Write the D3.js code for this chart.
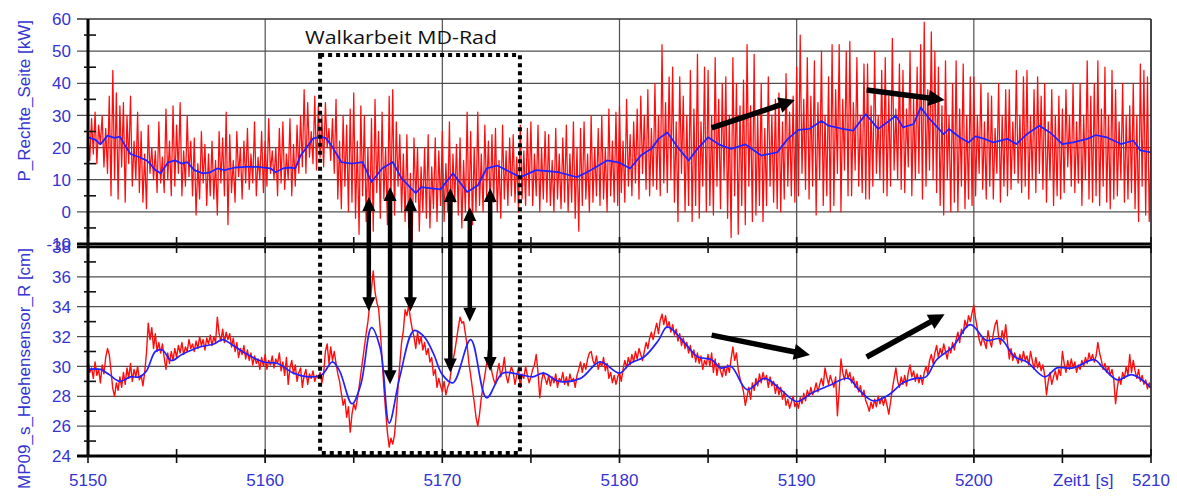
<!DOCTYPE html>
<html>
<head>
<meta charset="utf-8">
<script src="https://cdn.jsdelivr.net/npm/d3@7"></script>
<style>
  html, body { margin: 0; padding: 0; background: #ffffff; }
  svg { display: block; }
</style>
</head>
<body>
<svg id="chart" width="1177" height="502"></svg>
<script>
// Time base of the raw signals (seconds), one sample every 0.1 s
const T_START = 5150;
const T_END = 5210;
const SAMPLE_STEP = 0.1;

// P_Rechte_Seite [kW] – raw samples, one row per second
const powerSamples = [
  24,16,29,18,31,15,27,21,30,14,
  26,12,36,5,44,10,37,4,33,14,
  34,3,30,15,36,8,22,10,31,6,
  25,3,18,1,27,12,20,10,19,6,
  28,9,17,6,32,10,22,5,33,8,
  27,12,34,5,19,8,30,11,22,5,
  23,-1,15,4,25,9,21,2,18,5,
  22,4,16,-1,25,9,23,5,31,-4,
  24,6,16,3,25,11,20,4,22,9,
  26,7,18,9,28,5,17,10,25,6,
  22,8,29,12,19,10,20,5,26,9,
  28,7,18,10,29,5,21,8,27,12,
  30,14,38,12,34,17,25,15,36,13,
  33,17,30,14,34,20,26,16,29,12,
  35,4,22,1,30,8,27,0,32,3,
  37,-2,22,-7,33,5,30,-3,20,-5,
  29,-6,35,6,25,-2,31,4,20,-4,
  36,3,38,-1,28,8,24,0,18,-3,
  24,-5,12,-9,23,3,20,-6,14,0,
  20,-2,24,-5,14,1,23,-3,19,2,
  25,-3,15,0,28,-5,18,3,21,-1,
  23,-5,16,0,31,-2,25,-4,20,0,
  31,2,18,0,27,5,22,1,24,3,
  26,0,16,-2,27,4,19,2,23,5,
  24,3,17,0,27,4,19,2,26,5,
  28,2,18,5,27,0,20,4,25,3,
  24,2,16,0,26,4,18,1,23,3,
  27,0,18,3,28,-2,20,-6,26,2,
  28,4,18,0,30,3,20,5,26,2,
  30,4,20,0,32,5,22,3,31,2,
  33,6,22,3,35,8,24,5,28,9,
  32,4,36,12,30,7,38,5,26,8,
  40,7,30,5,52,9,34,6,42,10,
  45,3,28,-3,42,12,36,0,30,2,
  44,-3,32,2,49,-2,28,8,45,0,
  44,2,30,-1,48,8,35,1,40,10,
  42,-2,30,-8,48,5,40,-7,33,2,
  41,-4,52,8,33,-3,49,-1,30,2,
  40,-3,26,2,42,8,30,3,35,1,
  37,0,28,4,43,8,31,5,36,3,
  45,5,55,12,35,7,48,4,36,8,
  47,-1,34,10,50,2,30,5,42,0,
  52,2,38,12,52,0,35,13,50,5,
  53,5,34,13,48,8,30,6,46,4,
  46,4,33,8,50,12,30,10,44,6,
  48,5,36,8,54,13,32,10,46,7,
  44,6,32,14,50,5,35,10,45,12,
  52,4,59,8,38,13,56,10,50,6,
  45,2,33,-1,47,10,30,0,40,3,
  47,0,32,8,46,1,30,4,42,2,
  42,5,30,12,40,7,28,4,37,8,
  36,4,26,12,40,3,30,8,38,5,
  38,7,28,12,44,9,30,6,42,8,
  44,4,30,10,38,6,42,12,36,7,
  40,3,28,10,38,2,30,5,36,4,
  32,6,38,14,30,8,40,6,28,9,
  40,2,30,10,47,4,36,3,40,5,
  47,2,32,8,45,3,30,1,44,4,
  38,5,28,10,40,3,30,4,33,6,
  40,1,30,-3,46,8,44,-1,42,-3,
  20
];

// P_Rechte_Seite – filtered trend
const powerTrendTime = [
  5150.0,5150.4,5150.7,5151.1,5151.5,5151.8,5152.1,5152.4,5152.9,5153.3,
  5153.5,5153.8,5154.1,5154.5,5154.9,5155.3,5155.6,5156.0,5156.5,5156.9,
  5157.3,5157.7,5158.3,5158.9,5159.6,5160.3,5160.6,5161.0,5161.4,5161.7,
  5162.0,5162.2,5162.7,5163.1,5163.4,5163.7,5164.3,5164.9,5165.5,5166.0,
  5166.6,5167.2,5167.7,5168.5,5168.8,5169.9,5170.6,5171.4,5172.0,5172.5,
  5173.1,5173.6,5174.4,5175.3,5176.5,5177.6,5178.2,5179.3,5180.0,5180.6,
  5181.2,5181.8,5182.2,5182.7,5183.3,5183.9,5184.4,5185.0,5185.6,5186.3,
  5187.1,5188.0,5188.9,5189.5,5190.1,5190.7,5191.4,5191.8,5192.6,5193.2,
  5193.9,5194.6,5195.6,5196.0,5196.6,5197.0,5197.5,5198.3,5198.6,5199.2,
  5199.7,5200.1,5200.6,5201.1,5201.9,5202.4,5203.0,5203.7,5204.3,5205.0,
  5205.6,5206.4,5206.9,5207.5,5208.3,5209.0,5209.4,5210.0
];
const powerTrend = [
  23.2,22.5,21.0,23.7,23.0,23.4,20.6,18.0,17.0,16.0,
  15.0,13.0,12.0,15.3,16.0,15.0,15.5,13.0,12.0,12.3,
  13.5,13.0,13.8,14.0,14.0,13.5,12.3,13.5,13.8,13.5,
  17.5,19.0,22.8,23.4,23.0,21.0,15.5,15.0,15.5,9.3,
  13.5,15.5,10.4,5.8,7.7,7.0,12.0,6.2,8.2,13.5,
  14.4,13.0,10.8,13.0,12.4,10.8,12.4,16.0,15.3,13.5,
  17.5,19.6,22.7,24.7,20.0,16.0,19.6,23.2,21.0,19.6,
  21.0,17.5,18.5,22.7,25.5,25.8,28.3,26.8,25.8,25.3,
  30.4,25.8,29.9,26.3,27.3,32.5,28.9,24.2,25.8,23.2,
  21.6,23.5,22.7,21.6,22.7,21.1,24.2,26.8,24.7,21.1,
  21.6,22.7,23.9,23.2,21.1,22.2,19.1,18.5
];

// MP09_s_Hoehensensor_R [cm] – raw samples, one row per second
const heightSamples = [
  30.4,29.6,29.9,29.2,30.3,29.4,29.8,28.9,30.1,29.5,
  30.6,31.2,30.8,29.7,28.5,28.0,28.9,28.4,29.3,28.6,
  29.6,28.8,29.9,29.2,30.2,29.0,29.8,29.3,30.0,29.1,
  29.4,28.7,29.6,30.9,32.9,31.8,32.6,31.2,32.2,31.0,
  31.6,30.9,31.5,30.6,29.8,30.9,30.2,31.0,30.4,31.2,
  30.6,31.4,30.9,31.6,30.8,31.3,31.0,31.8,31.2,31.5,
  31.0,31.7,31.2,32.0,31.4,31.8,31.1,31.9,31.5,32.1,
  31.4,32.0,31.6,33.3,32.2,31.7,32.5,31.6,32.3,31.8,
  32.2,31.3,31.9,31.0,31.6,30.6,31.2,30.8,31.4,30.5,
  31.1,30.4,30.9,30.1,30.7,30.2,30.5,29.8,30.6,30.0,
  30.8,29.8,30.4,30.1,30.7,29.9,30.5,30.2,30.9,29.7,
  30.3,29.4,30.6,28.8,29.9,30.4,29.5,30.1,29.0,29.6,
  29.9,28.6,29.4,29.8,28.8,29.5,29.2,29.7,29.0,29.4,
  29.2,29.6,28.9,29.5,31.0,31.5,30.2,31.3,30.4,31.0,
  30.2,29.5,29.0,28.2,27.4,27.8,26.6,27.3,25.6,26.8,
  27.5,27.1,27.8,28.6,29.5,30.4,31.3,32.2,33.0,34.1,
  35.2,36.4,35.0,34.3,33.9,32.4,30.5,28.6,27.0,25.6,
  24.6,25.2,24.8,25.4,26.8,28.6,30.2,31.6,32.4,33.8,
  33.4,34.1,33.2,32.5,32.0,31.2,32.3,31.5,32.0,31.1,
  31.6,30.8,31.2,30.3,30.6,29.4,29.8,28.6,29.2,28.7,
  28.3,29.0,28.1,28.6,28.9,29.7,30.4,31.0,31.8,32.6,
  33.3,32.9,33.0,32.2,31.4,30.2,29.4,28.5,27.6,26.6,
  26.0,26.8,27.9,28.7,29.4,30.2,31.1,30.4,29.6,29.1,
  28.8,29.6,30.2,29.3,29.8,30.6,29.4,28.9,29.5,30.0,
  29.6,28.8,29.4,29.9,28.6,29.5,29.2,30.0,29.4,28.9,
  29.3,29.8,30.1,30.8,29.6,27.9,29.0,29.6,29.2,28.8,
  29.4,28.7,29.3,28.9,29.5,28.6,29.2,29.0,29.6,28.8,
  29.3,28.7,29.5,29.0,29.2,28.6,29.4,29.8,30.3,29.6,
  30.2,29.8,30.5,30.9,31.0,30.4,30.1,30.7,29.8,30.3,
  30.0,30.6,29.7,30.2,29.2,29.6,28.9,29.4,28.8,29.3,
  29.6,29.0,29.8,30.4,29.9,30.6,30.1,30.8,30.3,31.0,
  30.5,31.2,30.8,30.4,31.0,31.6,31.2,31.9,32.3,31.8,
  32.4,32.9,32.2,33.1,33.5,32.8,33.4,32.6,33.0,32.3,
  32.8,32.1,32.5,31.7,32.2,31.4,31.9,31.2,31.6,30.9,
  31.4,30.6,31.1,30.3,30.9,30.2,30.7,29.8,30.4,30.1,
  30.8,30.0,30.9,29.6,30.5,29.4,30.2,29.7,29.3,30.0,
  29.4,30.1,29.6,30.5,31.3,30.4,30.9,29.8,29.2,28.8,
  28.3,27.4,28.0,28.6,27.8,28.9,28.4,29.2,28.7,29.5,
  28.9,29.6,29.1,29.4,28.6,29.3,28.7,29.0,28.2,28.8,
  28.1,28.6,27.8,28.3,27.4,27.8,27.2,27.6,28.0,27.3,
  27.6,27.2,27.9,27.5,28.2,27.7,28.4,28.0,28.6,28.1,
  28.4,28.9,28.3,28.8,29.2,28.7,29.9,29.3,28.8,29.4,
  29.0,28.6,29.3,26.7,28.4,30.5,29.6,29.1,29.8,29.2,
  29.6,28.9,29.3,28.6,29.0,28.3,28.7,28.0,28.4,27.7,
  27.4,27.0,27.6,27.2,27.8,27.3,28.0,27.5,27.9,27.4,
  27.9,27.4,26.8,27.6,28.5,29.2,29.9,29.0,28.6,29.3,
  28.8,29.4,28.7,29.6,30.1,29.3,29.7,29.0,29.5,28.9,
  29.4,28.8,29.6,30.0,29.5,30.4,30.8,30.2,30.9,31.4,
  30.6,31.2,30.8,31.5,31.0,30.5,31.3,30.9,31.6,31.1,
  31.8,32.3,31.6,32.5,32.2,33.1,32.6,33.4,33.0,33.6,
  34.1,33.2,32.5,31.8,31.4,32.0,31.6,31.2,32.4,31.7,
  31.3,32.2,32.8,33.1,32.0,31.5,32.4,31.8,32.8,31.6,
  30.5,31.2,30.4,30.9,30.6,30.2,30.8,30.3,31.0,30.4,
  30.7,30.1,31.0,30.4,29.8,30.6,29.9,30.3,29.7,30.1,
  29.4,28.1,29.0,29.6,28.8,29.3,29.7,29.1,29.8,29.4,
  31.0,30.2,29.6,30.4,29.8,30.5,29.9,30.3,29.6,30.1,
  29.8,30.4,30.0,30.6,30.2,30.9,30.4,30.8,30.3,30.7,
  31.6,30.9,30.4,29.8,30.2,29.6,30.0,29.4,29.8,29.1,
  27.5,28.6,29.3,28.8,29.6,29.2,30.0,29.4,30.8,29.6,
  30.4,29.7,29.2,29.8,29.0,29.4,28.8,29.1,28.5,28.9,
  28.6
];

// MP09_s_Hoehensensor_R – filtered trend
const heightTrendTime = [
  5150.0,5150.7,5151.2,5151.8,5152.4,5152.9,5153.3,5153.8,5154.2,5154.7,
  5155.3,5156.3,5157.1,5157.6,5158.2,5159.0,5159.9,5160.7,5161.6,5162.5,
  5163.2,5163.8,5164.2,5164.9,5165.4,5166.0,5166.5,5167.0,5167.6,5168.4,
  5169.0,5169.5,5170.0,5170.6,5171.6,5172.5,5173.4,5174.4,5175.1,5175.7,
  5176.6,5177.8,5178.9,5180.0,5180.6,5181.4,5182.2,5182.7,5183.7,5184.4,
  5185.2,5185.7,5186.3,5187.2,5188.2,5189.1,5190.0,5190.9,5191.8,5192.9,
  5193.5,5194.3,5195.2,5196.0,5196.7,5197.3,5197.9,5198.8,5199.8,5200.7,
  5201.5,5202.3,5203.0,5204.0,5204.7,5205.6,5206.8,5207.3,5208.1,5208.9,
  5209.6,5210.0
];
const heightTrend = [
  29.8,29.8,29.45,29.0,29.3,29.3,29.7,31.0,31.1,30.4,
  30.8,31.3,31.5,31.8,31.4,30.8,30.3,30.2,29.55,29.3,
  29.45,30.3,29.7,27.5,28.8,32.6,31.2,26.2,29.3,32.4,
  31.95,30.85,29.45,28.9,31.8,27.9,29.55,29.45,29.3,29.55,
  29.0,29.2,30.3,29.55,30.2,30.65,31.75,32.65,31.55,30.65,
  30.45,29.9,30.0,28.45,29.2,28.45,27.65,28.25,28.7,29.2,
  28.45,27.7,28.1,28.9,29.2,29.3,30.45,31.3,32.8,31.75,
  31.85,30.65,30.3,29.3,29.9,29.9,30.45,29.9,29.1,29.45,
  29.0,28.55
];

// Axis ticks and labels
const powerTicks = [-10, 0, 10, 20, 30, 40, 50, 60];
const powerMinorTicks = [-5, 5, 15, 25, 35, 45, 55];
const heightTicks = [24, 26, 28, 30, 32, 34, 36, 38];
const heightMinorTicks = [25, 27, 29, 31, 33, 35, 37];
const timeTicks = [5150, 5160, 5170, 5180, 5190, 5200, 5210];
const timeMinorTicks = [5155, 5165, 5175, 5185, 5195, 5205];
const timeTickLabels = ["5150", "5160", "5170", "5180", "5190", "5200", "5210"];
const powerTitle = "P_Rechte_Seite [kW]";
const heightTitle = "MP09_s_Hoehensensor_R [cm]";
const timeTitle = "Zeit1 [s]";

// Annotation: marked region and arrows (time / signal units)
const regionLabel = "Walkarbeit MD-Rad";
const regionStart = 5163.1, regionEnd = 5174.38;
const regionTopPower = 48.8, regionBottomHeight = 24.2;
const linkArrowTime   = [5165.85, 5167.05, 5168.2, 5170.45, 5171.55, 5172.7];
const linkArrowPower  = [4.6, 7.7, 4.6, 7.4, 1.5, 7.4];
const linkArrowHeight = [33.7, 28.8, 33.7, 29.6, 33.0, 29.7];
const trendArrowsPower  = [[5185.2, 26.1, 5189.9, 34.8], [5193.95, 37.9, 5198.35, 34.8]];
const trendArrowsHeight = [[5185.2, 32.1, 5190.75, 30.76], [5193.95, 30.63, 5198.35, 33.5]];

// ---------------------------------------------------------------------------
const svg = d3.select("#chart");
const LEFT = 88, RIGHT = 1151;
const x = d3.scaleLinear().domain([T_START, T_END]).range([LEFT, RIGHT]);
const yP = d3.scaleLinear().domain([-10, 60]).range([244, 19]);
const yH = d3.scaleLinear().domain([24, 38]).range([456, 247]);

const LABEL_COLOR = "#3434d2";
const GRID_COLOR = "#505050";
const FONT = "'Liberation Sans', Arial, sans-serif";

const sampleTime = (i) => T_START + i * SAMPLE_STEP;

// Grid
const grid = svg.append("g");
grid.selectAll(".gp").data(powerTicks.filter(v => v > -10 && v < 60)).join("line")
  .attr("x1", 77).attr("x2", RIGHT).attr("y1", d => yP(d)).attr("y2", d => yP(d))
  .attr("stroke", GRID_COLOR).attr("stroke-width", 1.2);
grid.selectAll(".gh").data(heightTicks.filter(v => v > 24 && v < 38)).join("line")
  .attr("x1", 77).attr("x2", RIGHT).attr("y1", d => yH(d)).attr("y2", d => yH(d))
  .attr("stroke", GRID_COLOR).attr("stroke-width", 1.2);
grid.selectAll(".gt").data(timeTicks.filter(t => t > T_START && t < T_END)).join("line")
  .attr("x1", d => x(d)).attr("x2", d => x(d)).attr("y1", yP(60)).attr("y2", 463)
  .attr("stroke", GRID_COLOR).attr("stroke-width", 1.2);

// Signal clipping
const defs = svg.append("defs");
defs.append("clipPath").attr("id", "clipP").append("rect")
  .attr("x", LEFT).attr("y", yP(60)).attr("width", RIGHT - LEFT).attr("height", yP(-10) - yP(60));
defs.append("clipPath").attr("id", "clipH").append("rect")
  .attr("x", LEFT).attr("y", yH(38)).attr("width", RIGHT - LEFT).attr("height", yH(24) - yH(38));

// Power signal
const gP = svg.append("g").attr("clip-path", "url(#clipP)");
gP.append("path").datum(powerSamples)
  .attr("fill", "none").attr("stroke", "#ff0d0d").attr("stroke-width", 1.25)
  .attr("stroke-linejoin", "round")
  .attr("d", d3.line().x((d, i) => x(sampleTime(i))).y(d => yP(d)));
gP.append("path").datum(powerTrend)
  .attr("fill", "none").attr("stroke", "#2222ff").attr("stroke-width", 1.8)
  .attr("stroke-linejoin", "round")
  .attr("d", d3.line().x((d, i) => x(powerTrendTime[i])).y(d => yP(d)));

// Height signal
const gH = svg.append("g").attr("clip-path", "url(#clipH)");
gH.append("path").datum(heightSamples)
  .attr("fill", "none").attr("stroke", "#ff0d0d").attr("stroke-width", 1.4)
  .attr("stroke-linejoin", "round")
  .attr("d", d3.line().x((d, i) => x(sampleTime(i))).y(d => yH(d)));
gH.append("path").datum(heightTrend)
  .attr("fill", "none").attr("stroke", "#2222ff").attr("stroke-width", 1.7)
  .attr("d", d3.line().curve(d3.curveCatmullRom.alpha(0.5))
    .x((d, i) => x(heightTrendTime[i])).y(d => yH(d)));

// Frame and axes
const frame = svg.append("g");
frame.append("line").attr("x1", 77).attr("x2", RIGHT).attr("y1", yP(60)).attr("y2", yP(60))
  .attr("stroke", "#333").attr("stroke-width", 1.6);
frame.append("line").attr("x1", RIGHT).attr("x2", RIGHT).attr("y1", yP(60)).attr("y2", yH(24))
  .attr("stroke", "#333").attr("stroke-width", 1.8);
frame.append("line").attr("x1", 77).attr("x2", RIGHT).attr("y1", yP(-10)).attr("y2", yP(-10))
  .attr("stroke", "#000").attr("stroke-width", 3);
frame.append("line").attr("x1", 77).attr("x2", RIGHT).attr("y1", yH(38)).attr("y2", yH(38))
  .attr("stroke", "#000").attr("stroke-width", 2.4);
frame.append("line").attr("x1", 77).attr("x2", RIGHT).attr("y1", yH(24)).attr("y2", yH(24))
  .attr("stroke", "#000").attr("stroke-width", 3);
frame.append("line").attr("x1", LEFT).attr("x2", LEFT).attr("y1", yP(60)).attr("y2", yH(24))
  .attr("stroke", "#000").attr("stroke-width", 3);

// Minor ticks
frame.selectAll(".mp").data(powerMinorTicks).join("line")
  .attr("x1", 84).attr("x2", 96).attr("y1", d => yP(d)).attr("y2", d => yP(d))
  .attr("stroke", "#111").attr("stroke-width", 1.6);
frame.selectAll(".mh").data(heightMinorTicks).join("line")
  .attr("x1", 84).attr("x2", 96).attr("y1", d => yH(d)).attr("y2", d => yH(d))
  .attr("stroke", "#111").attr("stroke-width", 1.6);
const allTimeTicks = timeTicks.concat(timeMinorTicks);
frame.selectAll(".ts").data(allTimeTicks).join("line")
  .attr("x1", d => x(d)).attr("x2", d => x(d)).attr("y1", 237).attr("y2", 253)
  .attr("stroke", "#111").attr("stroke-width", 1.6);
frame.selectAll(".tb").data(allTimeTicks).join("line")
  .attr("x1", d => x(d)).attr("x2", d => x(d)).attr("y1", 449).attr("y2", 463)
  .attr("stroke", "#111").attr("stroke-width", 1.6);

// Tick labels
const labels = svg.append("g").attr("font-family", FONT).attr("font-size", 17)
  .attr("fill", LABEL_COLOR);
labels.selectAll(".lp").data(powerTicks).join("text")
  .attr("x", 71).attr("y", d => yP(d)).attr("dy", "0.36em").attr("text-anchor", "end")
  .text(d => d);
labels.selectAll(".lh").data(heightTicks).join("text")
  .attr("x", 71).attr("y", d => yH(d)).attr("dy", "0.36em").attr("text-anchor", "end")
  .text(d => d);
labels.selectAll(".lt").data(timeTicks).join("text")
  .attr("x", d => x(d)).attr("y", 486).attr("text-anchor", "middle")
  .text((d, i) => timeTickLabels[i]);
labels.append("text").attr("x", 1053).attr("y", 486).text(timeTitle);

// Axis titles
labels.append("text")
  .attr("transform", `translate(30, ${yP(60) + 1}) rotate(-90)`)
  .attr("text-anchor", "end").text(powerTitle);
labels.append("text")
  .attr("transform", `translate(30, ${yH(38) + 1}) rotate(-90)`)
  .attr("text-anchor", "end").text(heightTitle);

// Annotation
const ann = svg.append("g");
ann.append("rect")
  .attr("x", x(regionStart)).attr("y", yP(regionTopPower))
  .attr("width", x(regionEnd) - x(regionStart))
  .attr("height", yH(regionBottomHeight) - yP(regionTopPower))
  .attr("fill", "none").attr("stroke", "#000").attr("stroke-width", 4)
  .attr("stroke-dasharray", "4,4");
ann.append("text")
  .attr("x", 305).attr("y", 44)
  .attr("font-family", "'Open Sans', 'Noto Sans', sans-serif").attr("font-size", 19)
  .attr("textLength", 192).attr("lengthAdjust", "spacingAndGlyphs")
  .attr("fill", "#111").text(regionLabel);

function arrowHead(g, x1, y1, x2, y2, len, half) {
  const a = Math.atan2(y2 - y1, x2 - x1);
  const bx = x2 - len * Math.cos(a), by = y2 - len * Math.sin(a);
  const px = -Math.sin(a) * half, py = Math.cos(a) * half;
  g.append("path")
    .attr("d", `M${x2},${y2}L${bx + px},${by + py}L${bx - px},${by - py}Z`)
    .attr("fill", "#000");
  return [bx + 2 * Math.cos(a), by + 2 * Math.sin(a)];
}

// Double-headed link arrows between the two signals
linkArrowTime.forEach((t, i) => {
  const xa = x(t), yTop = yP(linkArrowPower[i]), yBot = yH(linkArrowHeight[i]);
  const s1 = arrowHead(ann, xa, yBot, xa, yTop, 14, 6.5);
  const s2 = arrowHead(ann, xa, yTop, xa, yBot, 14, 6.5);
  ann.append("line").attr("x1", xa).attr("x2", xa).attr("y1", s1[1]).attr("y2", s2[1])
    .attr("stroke", "#000").attr("stroke-width", 4.5);
});

// Trend arrows
function trendArrow(seg, yScale) {
  const x1 = x(seg[0]), y1 = yScale(seg[1]), x2 = x(seg[2]), y2 = yScale(seg[3]);
  const s = arrowHead(ann, x1, y1, x2, y2, 16, 8);
  ann.append("line").attr("x1", x1).attr("y1", y1).attr("x2", s[0]).attr("y2", s[1])
    .attr("stroke", "#000").attr("stroke-width", 5.5);
}
trendArrowsPower.forEach(seg => trendArrow(seg, yP));
trendArrowsHeight.forEach(seg => trendArrow(seg, yH));
</script>
</body>
</html>
